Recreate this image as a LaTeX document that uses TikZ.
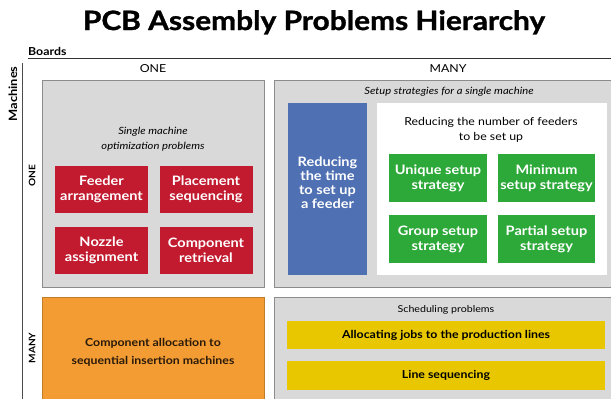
\documentclass[tikz,border=0pt]{standalone}
\usepackage{fontspec}
\setmainfont{Lato}[FakeStretch=1.12]
\newfontfamily\titlefont{Lato}[FakeStretch=1.12, FakeBold=1.2]
\definecolor{greybox}{HTML}{D9D9D9}
\definecolor{greyline}{HTML}{8C8C8C}
\definecolor{redbox}{HTML}{C21B30}
\definecolor{bluebox}{HTML}{4F70B3}
\definecolor{greenbox}{HTML}{2DA93A}
\definecolor{orangebox}{HTML}{F39C33}
\definecolor{yellowbox}{HTML}{E8C700}
\definecolor{darktext}{HTML}{2A1A0A}
\begin{document}
\begin{tikzpicture}[x=1pt,y=-1pt,
  panel/.style={draw=greyline, line width=0.8pt, fill=greybox, inner sep=0pt},
  tile/.style={inner sep=0pt, align=center, text=white, font=\fontsize{13}{15}\selectfont\bfseries},
  redtile/.style={tile, fill=redbox, minimum width=93pt, minimum height=47pt},
  greentile/.style={tile, fill=greenbox, minimum width=98pt, minimum height=48pt},
  yellowtile/.style={inner sep=0pt, fill=yellowbox, minimum width=318pt, minimum height=28.5pt, font=\fontsize{11}{13}\selectfont\bfseries, text=black},
  lbl/.style={inner sep=0pt, align=center},
  ]
\useasboundingbox (0,0) rectangle (611,399);
\fill[white] (0,0) rectangle (611,399);

% title and axes
\node[lbl, anchor=base] (title) at (314,30) {\resizebox{462pt}{!}{\titlefont\fontsize{28}{30}\selectfont\bfseries PCB Assembly Problems Hierarchy}};
\node[lbl, anchor=west, font=\fontsize{11}{12}\selectfont\bfseries] (boards) at (28,51) {Boards};
\coordinate (bl) at (28,58.5);
\coordinate (br) at (611,58.5);
\draw[line width=1.1pt, black!80] (bl) -- (br);
\node[lbl, rotate=90, font=\fontsize{11.5}{12}\selectfont\bfseries] (machines) at (13,94) {Machines};
\coordinate (mt) at (22,63);
\coordinate (mb) at (22,399);
\draw[line width=0.8pt, black!70] (mt) -- (mb);
\node[lbl, font=\fontsize{11}{12}\selectfont] (colone) at (153,69) {ONE};
\node[lbl, font=\fontsize{11}{12}\selectfont] (colmany) at (448,69) {MANY};
\node[lbl, rotate=90, font=\fontsize{9}{10}\selectfont\bfseries] (rowone) at (32,176) {ONE};
\node[lbl, rotate=90, font=\fontsize{9}{10}\selectfont\bfseries] (rowmany) at (32,348) {MANY};

% top-left panel
\node[panel, minimum width=222pt, minimum height=207pt] (tl) at (153,183.5) {};
\node[lbl, font=\fontsize{10}{15}\selectfont\itshape] (tltext) at (153,139) {Single machine\\optimization problems};
\node[redtile] (feeder) at (101.5,189) {Feeder\\arrangement};
\node[redtile] (placement) at (206,189) {Placement\\sequencing};
\node[redtile] (nozzle) at (101.5,250) {Nozzle\\assignment};
\node[redtile] (retrieval) at (206,250) {Component\\retrieval};

% top-right panel
\node[panel, minimum width=339pt, minimum height=207pt] (tr) at (443.5,183.5) {};
\node[lbl, font=\fontsize{10}{12}\selectfont\itshape] (trtext) at (449,92) {Setup strategies for a single machine};
\node[fill=bluebox, inner sep=0pt, minimum width=79pt, minimum height=172pt] (blue) at (327.5,189) {};
\node[lbl, text=white, font=\fontsize{13}{14}\selectfont\bfseries] (bluetext) at (327.5,183) {Reducing\\the time\\to set up\\a feeder};
\node[fill=white, inner sep=0pt, minimum width=230pt, minimum height=172pt] (white) at (492,189) {};
\node[lbl, font=\fontsize{11}{14.5}\selectfont] (whitetext) at (491,130) {Reducing the number of feeders\\to be set up};
\node[greentile] (unique) at (438,178) {Unique setup\\strategy};
\node[greentile, minimum width=97pt] (minimum) at (546.5,178) {Minimum\\setup strategy};
\node[greentile] (group) at (438,239) {Group setup\\strategy};
\node[greentile, minimum width=97pt] (partial) at (546.5,239) {Partial setup\\strategy};

% bottom-left
\node[fill=orangebox, draw=orangebox!80!black, line width=0.6pt, inner sep=0pt, minimum width=222pt, minimum height=108pt] (orange) at (153,351) {};
\node[lbl, text=darktext, font=\fontsize{11}{18}\selectfont\bfseries] (orangetext) at (153,352) {Component allocation to\\sequential insertion machines};

% bottom-right
\node[panel, minimum width=339pt, minimum height=108pt] (brp) at (443.5,351) {};
\node[lbl, font=\fontsize{9.5}{11}\selectfont] (brtext) at (446,310) {Scheduling problems};
\node[yellowtile] (alloc) at (446,335) {Allocating jobs to the production lines};
\node[yellowtile] (lineseq) at (446,375.5) {Line sequencing};
\end{tikzpicture}
\end{document}
